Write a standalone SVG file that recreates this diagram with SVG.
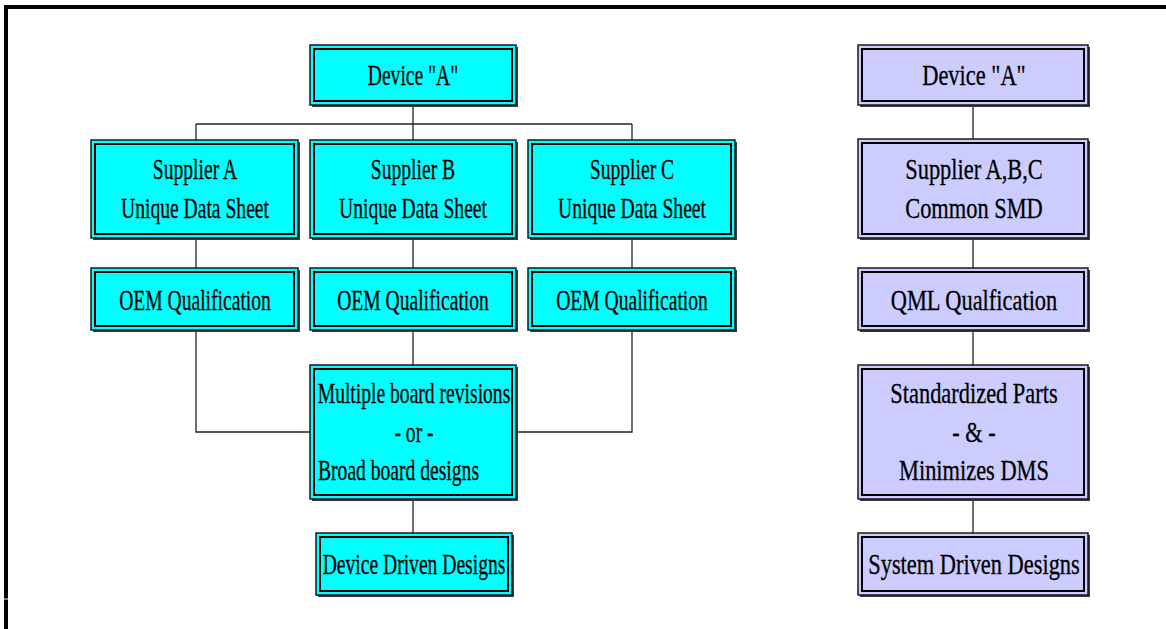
<svg xmlns="http://www.w3.org/2000/svg" width="1166" height="629" viewBox="0 0 1166 629">
  <style>
    .shadow { fill: #3a3a3a; }
    .outer { stroke: #1a1a1a; stroke-width: 1.5; }
    .inner { fill: none; stroke: #000; stroke-width: 2; }
    .cyan { fill: #00FFFF; }
    .lav { fill: #CCCCFF; }
    .lbl { font-family: "Liberation Serif", "Times New Roman", serif; font-size: 30px; fill: #000; stroke: #000; stroke-width: 0.3; text-anchor: middle; }
    .lft { text-anchor: start; }
    .conn { fill: none; stroke: #222; stroke-width: 1.3; }
    .frame { fill: #000; }
  </style>

  <rect width="1166" height="629" fill="#fff"/>

  <!-- page frame -->
  <g id="frame">
    <rect class="frame" x="4" y="5" width="1162" height="4"/>
    <rect class="frame" x="4" y="5" width="4" height="593.5"/>
    <rect class="frame" x="4" y="599.5" width="4" height="29.5"/>
  </g>

  <!-- connectors -->
  <g id="connectors" class="conn">
    <path d="M413,105 V124 M196,124 H632 M196,124 V140 M413,124 V140 M632,124 V140"/>
    <path d="M196,238 V268 M413,238 V268 M632,238 V268"/>
    <path d="M196,330 V432 H310 M632,330 V432 H516 M413,330 V365"/>
    <path d="M413,499 V533"/>
    <path d="M973,105 V139 M973,238 V268 M973,330 V365 M973,499 V533"/>
  </g>

  <!-- left column: supplier-specific flow -->
  <g id="l-device">
    <rect class="shadow" x="312" y="47" width="206" height="60"/>
    <rect class="outer cyan" x="310" y="45" width="206" height="60"/>
    <rect class="inner" x="314" y="49" width="198" height="52"/>
    <text class="lbl" transform="translate(413,85) scale(0.653,1)">Device "A"</text>
  </g>

  <g id="l-supplier-a">
    <rect class="shadow" x="93" y="142" width="207" height="98"/>
    <rect class="outer cyan" x="91" y="140" width="207" height="98"/>
    <rect class="inner" x="95" y="144" width="199" height="90"/>
    <text class="lbl" transform="translate(195,179) scale(0.653,1)">Supplier A</text>
    <text class="lbl" transform="translate(195,218) scale(0.653,1)">Unique Data Sheet</text>
  </g>

  <g id="l-supplier-b">
    <rect class="shadow" x="312" y="142" width="206" height="98"/>
    <rect class="outer cyan" x="310" y="140" width="206" height="98"/>
    <rect class="inner" x="314" y="144" width="198" height="90"/>
    <text class="lbl" transform="translate(413,179) scale(0.653,1)">Supplier B</text>
    <text class="lbl" transform="translate(413,218) scale(0.653,1)">Unique Data Sheet</text>
  </g>

  <g id="l-supplier-c">
    <rect class="shadow" x="530" y="142" width="207" height="98"/>
    <rect class="outer cyan" x="528" y="140" width="207" height="98"/>
    <rect class="inner" x="532" y="144" width="199" height="90"/>
    <text class="lbl" transform="translate(632,179) scale(0.653,1)">Supplier C</text>
    <text class="lbl" transform="translate(632,218) scale(0.653,1)">Unique Data Sheet</text>
  </g>

  <g id="l-oem-a">
    <rect class="shadow" x="93" y="270" width="207" height="62"/>
    <rect class="outer cyan" x="91" y="268" width="207" height="62"/>
    <rect class="inner" x="95" y="272" width="199" height="54"/>
    <text class="lbl" transform="translate(195,310) scale(0.653,1)">OEM Qualification</text>
  </g>

  <g id="l-oem-b">
    <rect class="shadow" x="312" y="270" width="206" height="62"/>
    <rect class="outer cyan" x="310" y="268" width="206" height="62"/>
    <rect class="inner" x="314" y="272" width="198" height="54"/>
    <text class="lbl" transform="translate(413,310) scale(0.653,1)">OEM Qualification</text>
  </g>

  <g id="l-oem-c">
    <rect class="shadow" x="530" y="270" width="207" height="62"/>
    <rect class="outer cyan" x="528" y="268" width="207" height="62"/>
    <rect class="inner" x="532" y="272" width="199" height="54"/>
    <text class="lbl" transform="translate(632,310) scale(0.653,1)">OEM Qualification</text>
  </g>

  <g id="l-boards">
    <rect class="shadow" x="312" y="367" width="206" height="134"/>
    <rect class="outer cyan" x="310" y="365" width="206" height="134"/>
    <rect class="inner" x="314" y="369" width="198" height="126"/>
    <text class="lbl" transform="translate(414,403) scale(0.653,1)">Multiple board revisions</text>
    <text class="lbl" transform="translate(414,442) scale(0.653,1)">- or -</text>
    <text class="lbl lft" transform="translate(318,480) scale(0.653,1)">Broad board designs</text>
  </g>

  <g id="l-result">
    <rect class="shadow" x="318" y="535" width="196" height="62"/>
    <rect class="outer cyan" x="316" y="533" width="196" height="62"/>
    <rect class="inner" x="320" y="537" width="188" height="54"/>
    <text class="lbl" transform="translate(414,574) scale(0.653,1)">Device Driven Designs</text>
  </g>

  <!-- right column: common SMD flow -->
  <g id="r-device">
    <rect class="shadow" x="860" y="47" width="230" height="60"/>
    <rect class="outer lav" x="858" y="45" width="230" height="60"/>
    <rect class="inner" x="862" y="49" width="222" height="52"/>
    <text class="lbl" transform="translate(974,85) scale(0.747,1)">Device "A"</text>
  </g>

  <g id="r-supplier">
    <rect class="shadow" x="860" y="141" width="230" height="99"/>
    <rect class="outer lav" x="858" y="139" width="230" height="99"/>
    <rect class="inner" x="862" y="143" width="222" height="91"/>
    <text class="lbl" transform="translate(974,179) scale(0.747,1)">Supplier A,B,C</text>
    <text class="lbl" transform="translate(974,218) scale(0.747,1)">Common SMD</text>
  </g>

  <g id="r-qml">
    <rect class="shadow" x="860" y="270" width="230" height="62"/>
    <rect class="outer lav" x="858" y="268" width="230" height="62"/>
    <rect class="inner" x="862" y="272" width="222" height="54"/>
    <text class="lbl" transform="translate(974,310) scale(0.747,1)">QML Qualfication</text>
  </g>

  <g id="r-standard">
    <rect class="shadow" x="860" y="367" width="230" height="134"/>
    <rect class="outer lav" x="858" y="365" width="230" height="134"/>
    <rect class="inner" x="862" y="369" width="222" height="126"/>
    <text class="lbl" transform="translate(974,403) scale(0.747,1)">Standardized Parts</text>
    <text class="lbl" transform="translate(974,442) scale(0.747,1)">- &amp; -</text>
    <text class="lbl" transform="translate(974,480) scale(0.747,1)">Minimizes DMS</text>
  </g>

  <g id="r-result">
    <rect class="shadow" x="860" y="535" width="230" height="62"/>
    <rect class="outer lav" x="858" y="533" width="230" height="62"/>
    <rect class="inner" x="862" y="537" width="222" height="54"/>
    <text class="lbl" transform="translate(974,574) scale(0.747,1)">System Driven Designs</text>
  </g>
</svg>
